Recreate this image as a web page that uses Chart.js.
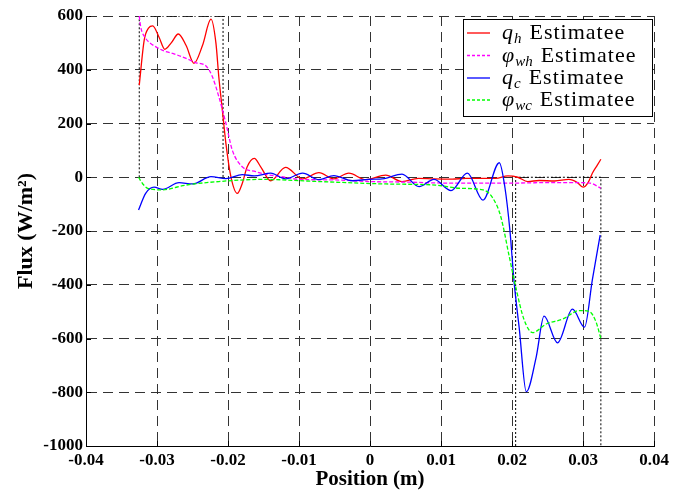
<!DOCTYPE html>
<html>
<head>
<meta charset="utf-8">
<script src="https://cdn.jsdelivr.net/npm/chart.js@4/dist/chart.umd.min.js"></script>
<style>
html,body{margin:0;padding:0;background:#fff;}
canvas{display:block;}
</style>
</head>
<body>
<canvas id="c" width="673" height="493"></canvas>
<script>
// ---- data ----
const qhX = [-0.0325,-0.0318,-0.0312,-0.0306,-0.0297,-0.0289,-0.0280,-0.0270,-0.0259,-0.0248,-0.0236,-0.0224,-0.0217,-0.0213,-0.0208,-0.0203,-0.0196,-0.0187,-0.0180,-0.0173,-0.0163,-0.0154,-0.0140,-0.0119,-0.0095,-0.0072,-0.0051,-0.0030,-0.0006,0.0022,0.0045,0.0068,0.0090,0.0116,0.0135,0.0177,0.0194,0.0208,0.0222,0.0238,0.0260,0.0280,0.0292,0.0300,0.0307,0.0313,0.0320,0.0325];
const qhY = [343,511,555,563,520,476,500,533,490,424,490,588,498,374,250,126,2,-60,-23,39,70,39,-13,37,-6,17,-6,15,-9,8,-16,-4,-6,-7,-4,-4,5,0,-16,-12,-14,-8,-20,-37,-20,15,45,67];

const phiWhX = [-0.0325,-0.0323,-0.0316,-0.0310,-0.0302,-0.0290,-0.0278,-0.0259,-0.0245,-0.0231,-0.0222,-0.0213,-0.0203,-0.0194,-0.0180,-0.0161,-0.0147,-0.0120,-0.0100,-0.0050,-0.0002,0.0050,0.0116,0.0192,0.0250,0.0290,0.0310,0.0325];
const phiWhY = [600,560,517,500,486,470,461,442,426,414,374,300,201,101,39,21,11,0,-8,-10,-16,-18,-22,-22,-20,-20,-22,-41];

const qcX = [-0.0326,-0.0316,-0.0304,-0.0292,-0.0269,-0.0250,-0.0224,-0.0203,-0.0180,-0.0163,-0.0140,-0.0119,-0.0095,-0.0072,-0.0051,-0.0025,-0.0002,0.0020,0.0045,0.0069,0.0090,0.0114,0.0137,0.0159,0.0182,0.0190,0.0197,0.0203,0.0210,0.0220,0.0234,0.0245,0.0264,0.0285,0.0302,0.0313,0.0324];
const qcY = [-122,-60,-37,-45,-20,-25,2,-5,10,5,15,-6,15,-9,6,-13,-8,-5,12,-35,-8,-50,15,-85,54,-40,-200,-395,-560,-798,-668,-517,-616,-491,-558,-382,-215];

const phiWcX = [-0.0326,-0.0320,-0.0313,-0.0294,-0.0259,-0.0213,-0.0152,-0.0072,0.0022,0.0092,0.0126,0.0159,0.0173,0.0184,0.0196,0.0205,0.0217,0.0229,0.0248,0.0271,0.0295,0.0309,0.0318,0.0325];
const phiWcY = [0,-25,-41,-47,-29,-16,-8,-16,-25,-29,-41,-47,-78,-146,-295,-407,-531,-578,-546,-528,-496,-500,-537,-600];

// dotted boundary boxes
const boxLeftX = [-0.0325,-0.0325,-0.0207,-0.0207];
const boxLeftY = [0,600,600,0];
const boxRightX = [0.0205,0.0205,0.0325,0.0325];
const boxRightY = [-1000,0,0,-1000];

const xTicks = [-0.04,-0.03,-0.02,-0.01,0,0.01,0.02,0.03,0.04];
const yTicks = [-1000,-800,-600,-400,-200,0,200,400,600];

const seriesSymbols = ['q','\u03C6','q','\u03C6'];
const seriesSubs = ['h','wh','c','wc'];
const seriesSuffix = 'Estimatee';
const seriesColors = ['#ff0000','#ff00ff','#0000ff','#00ff00'];

const pts = (xs, ys) => xs.map((x, i) => ({x: x, y: ys[i]}));

const curve = (label, xs, ys, color, dash, order) => ({
  label: label, data: pts(xs, ys), borderColor: color, borderWidth: 1.3,
  borderDash: dash, pointRadius: 0, fill: false,
  cubicInterpolationMode: 'monotone', order: order
});
const box = (xs, ys) => ({
  label: 'box', data: pts(xs, ys), borderColor: '#000', borderWidth: 1,
  borderDash: [2, 2], pointRadius: 0, fill: false, tension: 0, order: 10
});

const innerTicks = {
  id: 'innerTicks',
  beforeDatasetsDraw(chart) {
    const {ctx, chartArea: a, scales: {x, y}} = chart;
    ctx.save();
    ctx.strokeStyle = '#000';
    ctx.lineWidth = 1;
    ctx.beginPath();
    xTicks.forEach(v => { const p = Math.round(x.getPixelForValue(v)) + 0.5; ctx.moveTo(p, a.bottom); ctx.lineTo(p, a.bottom - 5); });
    yTicks.forEach(v => { const p = Math.round(y.getPixelForValue(v)) + 0.5; ctx.moveTo(a.left, p); ctx.lineTo(a.left + 5, p); });
    ctx.stroke();
    ctx.restore();
  }
};

const mathLegend = {
  id: 'mathLegend',
  afterDraw(chart) {
    const ctx = chart.ctx;
    const L = 463, T = 19, W = 189, H = 97;
    ctx.save();
    ctx.fillStyle = '#fff';
    ctx.fillRect(L, T, W, H);
    ctx.strokeStyle = '#000';
    ctx.lineWidth = 1;
    ctx.strokeRect(L + 0.5, T + 0.5, W, H);
    const rowY = [33, 55.5, 78, 100];
    const dashes = [[], [3, 2], [], [3, 2]];
    for (let i = 0; i < 4; i++) {
      const cy = rowY[i];
      ctx.setLineDash(dashes[i]);
      ctx.strokeStyle = seriesColors[i];
      ctx.lineWidth = 1.3;
      ctx.beginPath();
      ctx.moveTo(467, cy); ctx.lineTo(490, cy);
      ctx.stroke();
      ctx.setLineDash([]);
      ctx.fillStyle = '#000';
      ctx.textBaseline = 'alphabetic';
      ctx.textAlign = 'left';
      const base = cy + 6;
      let xx = 502;
      ctx.font = 'italic 22px "Liberation Serif"';
      ctx.fillText(seriesSymbols[i], xx, base);
      xx += ctx.measureText(seriesSymbols[i]).width + 1;
      ctx.font = 'italic 15px "Liberation Serif"';
      ctx.fillText(seriesSubs[i], xx, base + 4);
      xx += ctx.measureText(seriesSubs[i]).width + 8;
      ctx.font = '22px "Liberation Serif"';
      if ('letterSpacing' in ctx) ctx.letterSpacing = '1px';
      ctx.fillText(seriesSuffix, xx, base);
      if ('letterSpacing' in ctx) ctx.letterSpacing = '0px';
    }
    ctx.restore();
  }
};

const tickFont = {family: '"Liberation Serif"', size: 17, weight: 'bold'};
const gridCommon = {color: '#333', lineWidth: 1, drawTicks: false};

new Chart(document.getElementById('c'), {
  type: 'line',
  data: {
    datasets: [
      curve('q_h Estimatee', qhX, qhY, seriesColors[0], [], 4),
      curve('phi_wh Estimatee', phiWhX, phiWhY, seriesColors[1], [4, 2], 3),
      curve('q_c Estimatee', qcX, qcY, seriesColors[2], [], 2),
      curve('phi_wc Estimatee', phiWcX, phiWcY, seriesColors[3], [4, 2], 1),
      box(boxLeftX, boxLeftY),
      box(boxRightX, boxRightY)
    ]
  },
  options: {
    responsive: false,
    animation: false,
    devicePixelRatio: 1,
    layout: {padding: {top: 16, right: 18, left: 0, bottom: 0}},
    plugins: {legend: {display: false}, tooltip: {enabled: false}},
    scales: {
      x: {
        type: 'linear', min: -0.04, max: 0.04,
        afterBuildTicks: s => { s.ticks = xTicks.map(v => ({value: v})); },
        afterFit: s => { s.height = 47; },
        ticks: {color: '#000', font: tickFont, padding: 4, maxRotation: 0,
          callback: v => String(Math.round(v * 100) / 100)},
        grid: gridCommon,
        border: {display: true, color: '#000', width: 1, dash: [10, 6]},
        title: {display: true, text: 'Position (m)', color: '#000',
          font: {family: '"Liberation Serif"', size: 21, weight: 'bold'}, padding: {top: 0, bottom: 1}}
      },
      y: {
        type: 'linear', min: -1000, max: 600,
        afterBuildTicks: s => { s.ticks = yTicks.map(v => ({value: v})); },
        afterFit: s => { s.width = 86; },
        ticks: {color: '#000', font: tickFont, padding: 3,
          callback: v => String(v)},
        grid: gridCommon,
        border: {display: true, color: '#000', width: 1, dash: [10, 6]},
        title: {display: true, text: 'Flux (W/m\u00B2)', color: '#000',
          font: {family: '"Liberation Serif"', size: 22, weight: 'bold'}, padding: {top: 13, bottom: 0}}
      }
    }
  },
  plugins: [innerTicks, mathLegend]
});
</script>
</body>
</html>
